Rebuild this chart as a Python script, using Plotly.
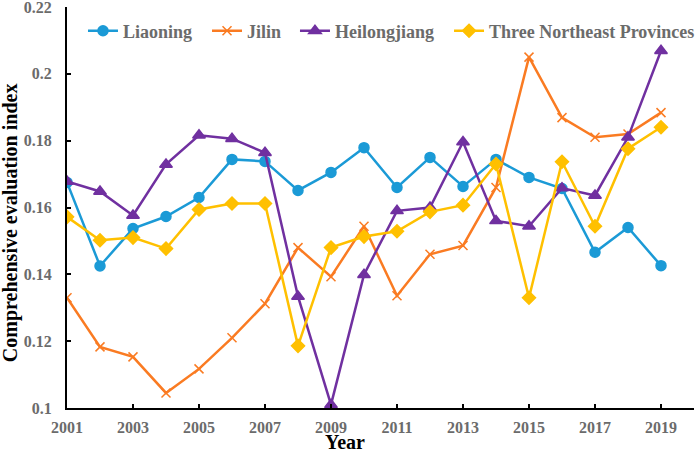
import plotly.graph_objects as go

years = list(range(2001, 2020))
liaoning = [0.1675, 0.1425, 0.1537, 0.1573, 0.1630, 0.1744, 0.1738, 0.1651, 0.1705, 0.1779,
            0.1660, 0.1750, 0.1663, 0.1744, 0.1690, 0.1657, 0.1466, 0.1540, 0.1426]
jilin = [0.1330, 0.1183, 0.1153, 0.1045, 0.1117, 0.1210, 0.1312, 0.1480, 0.1393, 0.1544,
         0.1336, 0.1460, 0.1486, 0.1660, 0.2050, 0.1869, 0.1810, 0.1820, 0.1884]
heilongjiang = [0.1678, 0.1648, 0.1576, 0.1729, 0.1816, 0.1806, 0.1764, 0.1334, 0.1010, 0.1399,
                0.1590, 0.1600, 0.1796, 0.1560, 0.1544, 0.1658, 0.1636, 0.1810, 0.2069]
three_ne = [0.1572, 0.1502, 0.1510, 0.1477, 0.1594, 0.1612, 0.1612, 0.1186, 0.1480, 0.1513,
            0.1529, 0.1587, 0.1607, 0.1730, 0.1330, 0.1737, 0.1544, 0.1776, 0.1840]

y_ticks = [0.1, 0.12, 0.14, 0.16, 0.18, 0.2, 0.22]
y_labels = ["0.1", "0.12", "0.14", "0.16", "0.18", "0.2", "0.22"]
x_ticks = list(range(2001, 2020, 2))

series = [
    ("Liaoning", liaoning, "#1b9ad6", "circle", 10),
    ("Jilin", jilin, "#fa7b22", "x-thin", 9),
    ("Heilongjiang", heilongjiang, "#7030a0", "triangle-up", 11),
    ("Three Northeast Provinces", three_ne, "#ffc000", "diamond", 10),
]
legend_ids = ["legend", "legend2", "legend3", "legend4"]
legend_x = [0.0255, 0.2233, 0.3636, 0.6093]

font_family = "Liberation Serif, Times New Roman, serif"

fig = go.Figure()
for (name, vals, color, sym, size), lid in zip(series, legend_ids):
    fig.add_trace(go.Scatter(
        x=years, y=vals, name=name, mode="lines+markers", legend=lid,
        line=dict(color=color, width=2.5),
        marker=dict(symbol=sym, size=size, color=color,
                    line=dict(color=color, width=1.5)),
    ))

legend_layout = {}
for lid, lx in zip(legend_ids, legend_x):
    legend_layout[lid] = dict(
        orientation="h", x=lx, y=0.94, xanchor="left", yanchor="middle",
        font=dict(family=font_family, size=18, color="#6b6b6b", weight="bold"),
        bgcolor="rgba(0,0,0,0)", borderwidth=0)

fig.update_layout(
    width=699, height=453,
    margin=dict(l=67, r=5, t=7, b=45, autoexpand=False),
    paper_bgcolor="white", plot_bgcolor="white",
    font=dict(family=font_family),
    showlegend=True,
    xaxis=dict(range=[2001, 2020], tickmode="array", tickvals=x_ticks,
               ticks="inside", ticklen=4, tickwidth=1.5, tickcolor="black",
               showline=True, linecolor="black", linewidth=2, showgrid=False, zeroline=False,
               tickfont=dict(family=font_family, size=16, color="#6b6b6b", weight="bold"),
               ticklabelstandoff=4, ticklabeloverflow="allow"),
    yaxis=dict(range=[0.1, 0.22], tickmode="array",
               tickvals=y_ticks, ticktext=y_labels,
               ticks="inside", ticklen=4, tickwidth=1.5, tickcolor="black",
               showline=True, linecolor="black", linewidth=2, showgrid=False, zeroline=False,
               tickfont=dict(family=font_family, size=16, color="#6b6b6b", weight="bold"),
               ticklabelstandoff=10, ticklabeloverflow="allow"),
    annotations=[
        dict(text="Year", xref="paper", yref="paper", x=0.443, y=0, yshift=-34,
             xanchor="center", yanchor="middle", showarrow=False,
             font=dict(family=font_family, size=20, color="black", weight="bold")),
        dict(text="Comprehensive evaluation index", xref="paper", yref="paper",
             x=0, xshift=-57, y=0.461, textangle=-90, xanchor="center", yanchor="middle",
             showarrow=False,
             font=dict(family=font_family, size=20, color="black", weight="bold")),
    ],
    **legend_layout,
)

fig.write_html("out.html", config={"displayModeBar": False},
               post_script="document.body.style.margin='0';")
